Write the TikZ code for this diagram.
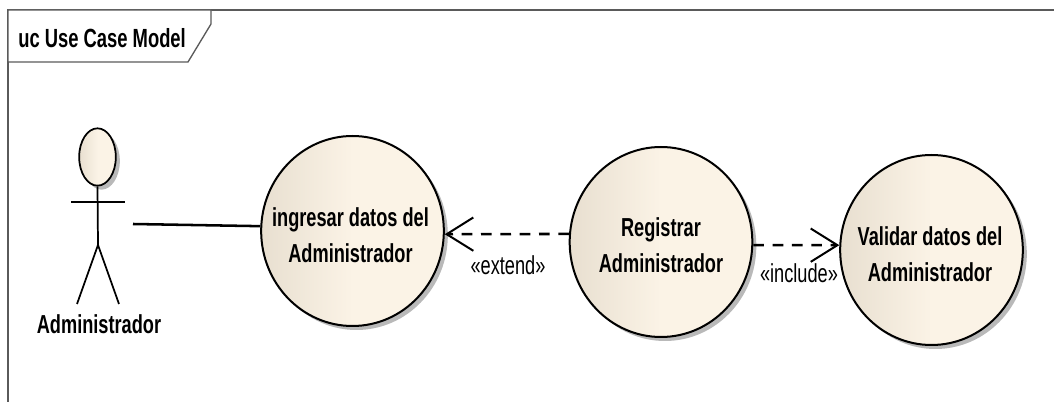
\documentclass[tikz,border=0pt]{standalone}
\usepackage{fontspec}
\setmainfont[FakeStretch=0.7]{Liberation Sans}
\usetikzlibrary{arrows.meta,shapes.geometric,shadows}

\tikzset{
	usecase/.style={ellipse, draw=black, line width=1.5pt, inner sep=0pt, minimum width=137pt, minimum height=142.5pt,
		left color=useleft, right color=useright, middle color=useright,
		drop shadow={shadow xshift=3pt, shadow yshift=-3pt, fill=gray!55, opacity=1}},
	bold text/.style={font=\fontsize{19.5}{27}\selectfont\bfseries, align=center, inner sep=0pt},
	stereo/.style={font=\fontsize{19.5}{20}\selectfont, fill=white, inner sep=0pt, text depth=3pt, text height=14pt},
	limb/.style={draw=black, line width=1.3pt},
	dep/.style={black, line width=1.9pt, dash pattern=on 8pt off 6.5pt, -{Straight Barb[length=20pt, width=25pt, line width=1.5pt]}}
}
\definecolor{useleft}{HTML}{E8DFD0}
\definecolor{useright}{HTML}{FBF3E6}
\definecolor{framegray}{HTML}{5A5A5A}

\begin{document}
\begin{tikzpicture}
	[
	x=0.75pt, y=-0.75pt
	]
	\useasboundingbox (0,0) rectangle (1054,402);

	%Rahmen
	\draw[framegray, line width=1pt] (8,402) -- (8,10) -- (1054,10);
	\draw[framegray, line width=1pt, fill=white] (8,10) -- (211,10) -- (211,24) -- (188,62) -- (8,62) -- cycle;
	\node[bold text, font=\fontsize{19.7}{27}\selectfont\bfseries, anchor=west] (frametitle) at (18,38) {uc Use Case Model};

	%Akteur
	\node[ellipse, draw=black, line width=1.3pt, inner sep=0pt, minimum width=27.5pt, minimum height=43pt,
		left color=useleft, right color=useright, middle color=useright,
		drop shadow={shadow xshift=3pt, shadow yshift=-3pt, fill=gray!55, opacity=1}] (head) at (97.5,157) {};
	\coordinate (armleft) at (71,202);
	\coordinate (armright) at (125,202);
	\coordinate (hip) at (98,245);
	\coordinate (footleft) at (77,304);
	\coordinate (footright) at (119,304);
	\coordinate (hand) at (133,224);
	\draw[limb] (head.south) -- (hip);
	\draw[limb] (armleft) -- (armright);
	\draw[limb] (footleft) -- (hip) -- (footright);
	\node[bold text] (actorname) at (99,324) {Administrador};

	%Anwendungsfaelle
	\node[usecase] (ingresar) at (352.5,231) {};
	\node[usecase] (registrar) at (661,242) {};
	\node[usecase] (validar) at (931.5,250) {};
	\node[bold text] (ingresartext) at (350.5,235) {ingresar datos del\\Administrador};
	\node[bold text] (registrartext) at (661,245) {Registrar\\Administrador};
	\node[bold text] (validartext) at (930,254) {Validar datos del\\Administrador};

	%Verbindungen
	\draw[black, line width=1.9pt] (hand) -- (ingresar.177.5);
	\draw[dep] (registrar.175.5) -- (ingresar.-2.5);
	\draw[dep] (registrar.-2.5) -- (validar.177.5);

	%Beschriftung
	\node[stereo] (extendlabel) at (508,267) {«extend»};
	\node[stereo] (includelabel) at (799,275) {«include»};
\end{tikzpicture}
\end{document}
